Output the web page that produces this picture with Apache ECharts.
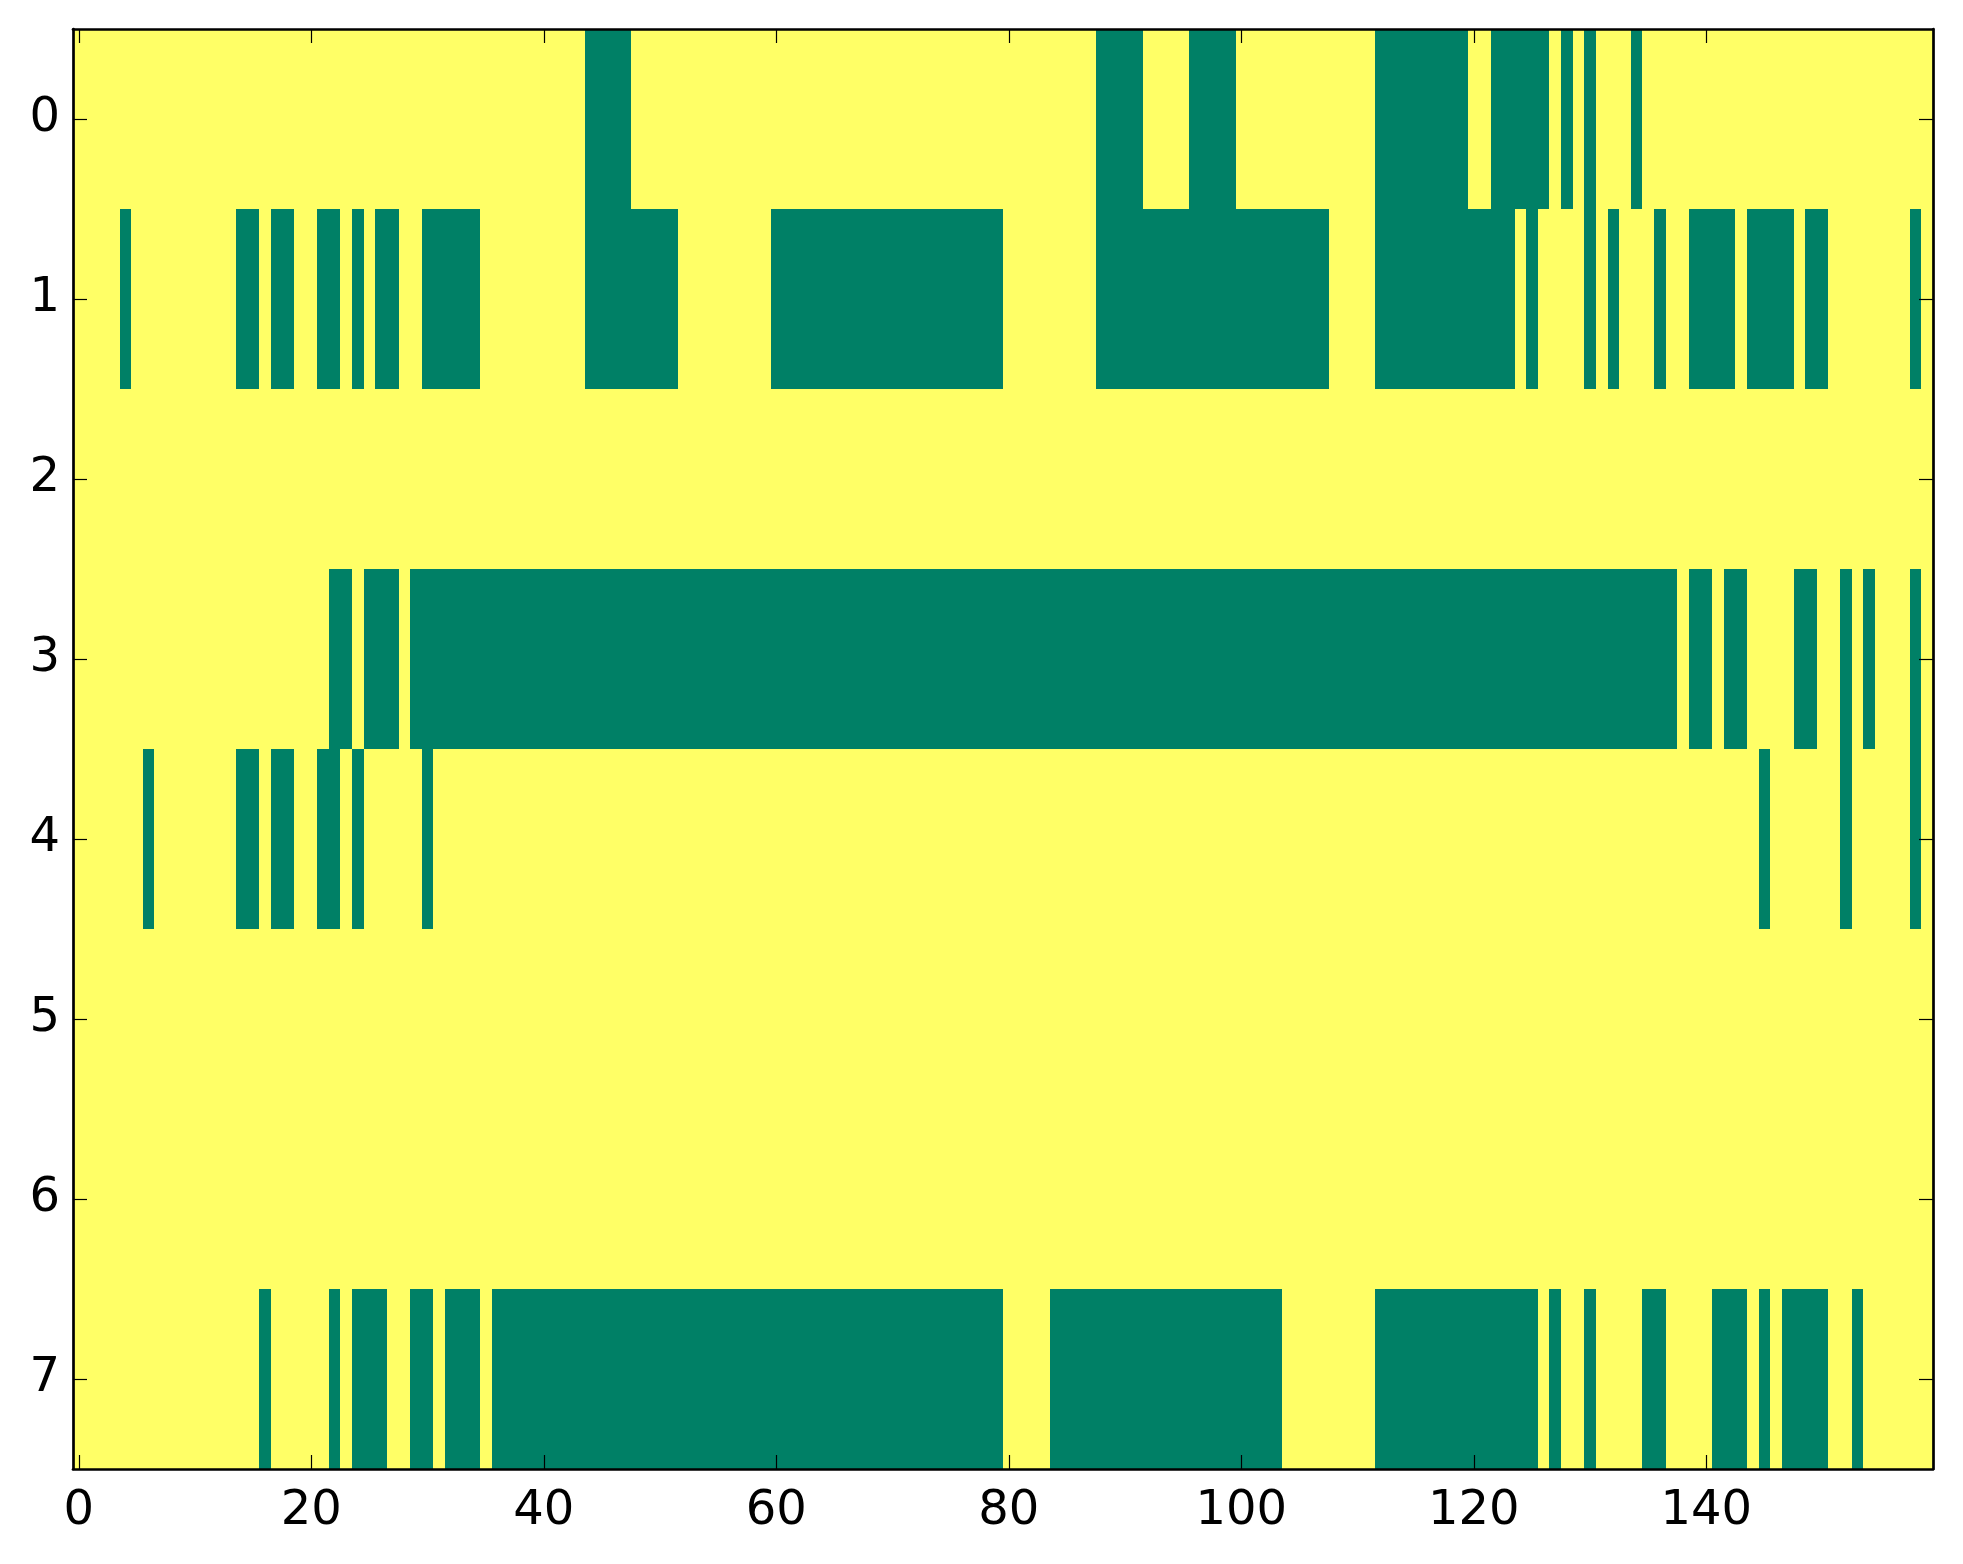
<!DOCTYPE html>
<html>
<head>
<meta charset="utf-8">
<script src="https://cdn.jsdelivr.net/npm/echarts@6/dist/echarts.min.js"></script>
<style>
html,body{margin:0;padding:0;background:#ffffff;}
#chart{width:1963px;height:1564px;}
</style>
</head>
<body>
<div id="chart"></div>
<script>
// Matrix: 8 rows x 160 columns. Value 0 (green) inside the listed runs, 1 (yellow) elsewhere.
var nCols = 160;
var nRows = 8;
var row0Low = [[44,47],[88,91],[96,99],[112,119],[122,126],[128,128],[130,130],[134,134]];
var row1Low = [[4,4],[14,15],[17,18],[21,22],[24,24],[26,27],[30,34],[44,51],[60,79],[88,107],[112,123],[125,125],[130,130],[132,132],[136,136],[139,142],[144,147],[149,150],[158,158]];
var row2Low = [];
var row3Low = [[22,23],[25,27],[29,137],[139,140],[142,143],[148,149],[152,152],[154,154],[158,158]];
var row4Low = [[6,6],[14,15],[17,18],[21,22],[24,24],[30,30],[145,145],[152,152],[158,158]];
var row5Low = [];
var row6Low = [];
var row7Low = [[16,16],[22,22],[24,26],[29,30],[32,34],[36,79],[84,103],[112,125],[127,127],[130,130],[135,136],[141,143],[145,145],[147,150],[153,153]];

var xTicks = [0,20,40,60,80,100,120,140];
var yTicks = [0,1,2,3,4,5,6,7];

var colorLow = '#008066';
var colorHigh = '#ffff66';

var rowsLow = [row0Low,row1Low,row2Low,row3Low,row4Low,row5Low,row6Low,row7Low];
var cells = [];
for (var r = 0; r < nRows; r++) {
  for (var c = 0; c < nCols; c++) {
    var v = 1;
    var runs = rowsLow[r];
    for (var k = 0; k < runs.length; k++) {
      if (c >= runs[k][0] && c <= runs[k][1]) { v = 0; break; }
    }
    cells.push([c, r, v]);
  }
}

var chart = echarts.init(document.getElementById('chart'), null, {renderer:'canvas'});
var font = 'DejaVu Sans';
var lineStyle = {color:'#000000', width:2.7};
function xAxisDef(pos, showLabel){
  return {
    type:'value', position:pos, min:-0.5, max:nCols-0.5, z:10,
    axisLine:{show:true, onZero:false, lineStyle:lineStyle},
    axisTick:{show:true, inside:true, length:14, customValues:xTicks, lineStyle:{color:'#000', width:1.2}},
    axisLabel:{show:showLabel, customValues:xTicks, fontSize:48, fontFamily:font, color:'#000', margin:19},
    splitLine:{show:false}
  };
}
function yAxisDef(pos, showLabel){
  return {
    type:'value', position:pos, inverse:true, min:-0.5, max:nRows-0.5, z:10,
    axisLine:{show:true, onZero:false, lineStyle:lineStyle},
    axisTick:{show:true, inside:true, length:14, customValues:yTicks, lineStyle:{color:'#000', width:1.2}},
    axisLabel:{show:showLabel, customValues:yTicks, fontSize:48, fontFamily:font, color:'#000', margin:13},
    splitLine:{show:false}
  };
}

chart.setOption({
  animation:false,
  backgroundColor:'#ffffff',
  grid:{left:73, right:30, top:29, bottom:95, containLabel:false},
  xAxis:[xAxisDef('bottom', true), xAxisDef('top', false)],
  yAxis:[yAxisDef('left', true), yAxisDef('right', false)],
  series:[{
    type:'custom',
    xAxisIndex:0, yAxisIndex:0,
    clip:true,
    z:1,
    data:cells,
    encode:{x:0, y:1},
    renderItem:function(params, api){
      var x = api.value(0), y = api.value(1), v = api.value(2);
      var p0 = api.coord([x-0.5, y-0.5]);
      var p1 = api.coord([x+0.5, y+0.5]);
      var x0 = Math.round(Math.min(p0[0],p1[0])), x1 = Math.round(Math.max(p0[0],p1[0]));
      var y0 = Math.round(Math.min(p0[1],p1[1])), y1 = Math.round(Math.max(p0[1],p1[1]));
      var col = v === 0 ? colorLow : colorHigh;
      return {
        type:'rect',
        shape:{x:x0, y:y0, width:x1-x0, height:y1-y0},
        style:{fill:col}
      };
    }
  }]
});
</script>
</body>
</html>
